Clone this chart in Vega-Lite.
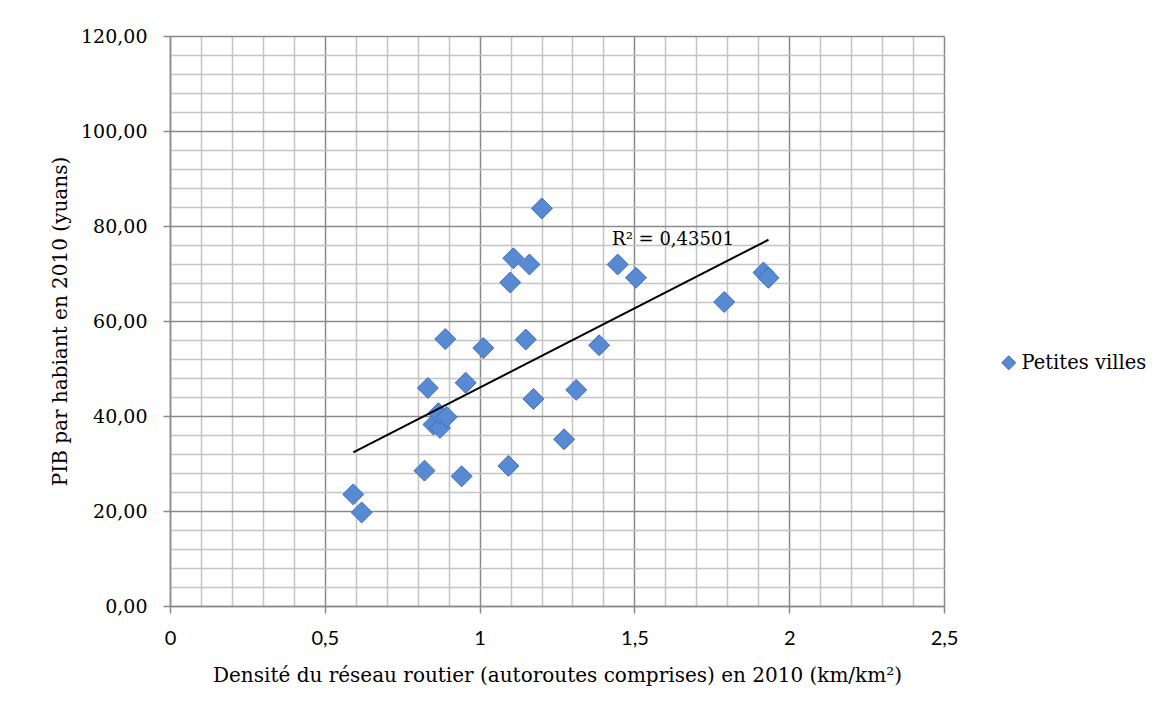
{
  "$schema": "https://vega.github.io/schema/vega-lite/v6.json",
  "description": "PIB par habitant vs densité du réseau routier, petites villes, 2010.",
  "width": 774,
  "height": 570,
  "autosize": "none",
  "padding": {"left": 170, "top": 36, "right": 231, "bottom": 109},
  "background": "white",
  "config": {
    "view": {"stroke": null},
    "axis": {
      "domainColor": "#8a8a8a",
      "domainWidth": 1.5,
      "tickColor": "#8a8a8a",
      "tickWidth": 1.5,
      "tickSize": 7,
      "labelColor": "#000",
      "titleColor": "#000",
      "titleFontWeight": "normal",
      "labelOverlap": false,
      "labelBound": false,
      "labelFlush": false
    }
  },
  "encoding": {
    "x": {
      "field": "densite",
      "type": "quantitative",
      "scale": {"domain": [0, 2.5], "nice": false},
      "axis": {
        "title": "Densité du réseau routier (autoroutes comprises) en 2010 (km/km²)",
        "titleFont": "DejaVu Serif",
        "titleFontSize": 20,
        "titlePadding": 17,
        "labelFont": "Lato",
        "labelFontSize": 20,
        "labelPadding": 15,
        "values": [0, 0.1, 0.2, 0.3, 0.4, 0.5, 0.6, 0.7, 0.8, 0.9, 1, 1.1, 1.2, 1.3, 1.4, 1.5, 1.6, 1.7, 1.8, 1.9, 2, 2.1, 2.2, 2.3, 2.4, 2.5],
        "labelExpr": "abs(datum.value*2 - round(datum.value*2)) < 0.001 ? replace(format(datum.value, '~g'), '.', ',') : ''",
        "grid": true,
        "gridWidth": 1.5,
        "gridColor": {"condition": {"test": "abs(datum.value*2 - round(datum.value*2)) < 0.001", "value": "#8a8a8a"}, "value": "#c4c4c4"},
        "tickOpacity": {"condition": {"test": "abs(datum.value*2 - round(datum.value*2)) < 0.001", "value": 1}, "value": 0}
      }
    },
    "y": {
      "field": "pib",
      "type": "quantitative",
      "scale": {"domain": [0, 120], "nice": false},
      "axis": {
        "title": "PIB par habiant en 2010 (yuans)",
        "titleFont": "DejaVu Serif",
        "titleFontSize": 20,
        "titlePadding": 10,
        "labelFont": "DejaVu Serif",
        "labelFontSize": 19,
        "labelPadding": 16,
        "values": [0, 4, 8, 12, 16, 20, 24, 28, 32, 36, 40, 44, 48, 52, 56, 60, 64, 68, 72, 76, 80, 84, 88, 92, 96, 100, 104, 108, 112, 116, 120],
        "labelExpr": "datum.value % 20 == 0 ? replace(format(datum.value, '.2f'), '.', ',') : ''",
        "grid": true,
        "gridWidth": 1.5,
        "gridColor": {"condition": {"test": "datum.value % 20 == 0", "value": "#8a8a8a"}, "value": "#c4c4c4"},
        "tickOpacity": {"condition": {"test": "datum.value % 20 == 0", "value": 1}, "value": 0}
      }
    }
  },
  "layer": [
    {
      "data": {
        "values": [
          {"densite": 0.592, "pib": 23.5, "serie": "Petites villes"},
          {"densite": 0.619, "pib": 19.7, "serie": "Petites villes"},
          {"densite": 0.822, "pib": 28.5, "serie": "Petites villes"},
          {"densite": 0.833, "pib": 45.9, "serie": "Petites villes"},
          {"densite": 0.851, "pib": 38.2, "serie": "Petites villes"},
          {"densite": 0.872, "pib": 37.5, "serie": "Petites villes"},
          {"densite": 0.867, "pib": 40.6, "serie": "Petites villes"},
          {"densite": 0.894, "pib": 39.8, "serie": "Petites villes"},
          {"densite": 0.889, "pib": 56.2, "serie": "Petites villes"},
          {"densite": 0.942, "pib": 27.3, "serie": "Petites villes"},
          {"densite": 0.955, "pib": 47.0, "serie": "Petites villes"},
          {"densite": 1.012, "pib": 54.3, "serie": "Petites villes"},
          {"densite": 1.093, "pib": 29.5, "serie": "Petites villes"},
          {"densite": 1.099, "pib": 68.1, "serie": "Petites villes"},
          {"densite": 1.109, "pib": 73.2, "serie": "Petites villes"},
          {"densite": 1.149, "pib": 56.1, "serie": "Petites villes"},
          {"densite": 1.161, "pib": 71.9, "serie": "Petites villes"},
          {"densite": 1.174, "pib": 43.6, "serie": "Petites villes"},
          {"densite": 1.201, "pib": 83.7, "serie": "Petites villes"},
          {"densite": 1.273, "pib": 35.1, "serie": "Petites villes"},
          {"densite": 1.312, "pib": 45.5, "serie": "Petites villes"},
          {"densite": 1.386, "pib": 54.9, "serie": "Petites villes"},
          {"densite": 1.446, "pib": 71.9, "serie": "Petites villes"},
          {"densite": 1.505, "pib": 69.1, "serie": "Petites villes"},
          {"densite": 1.790, "pib": 64.0, "serie": "Petites villes"},
          {"densite": 1.917, "pib": 70.2, "serie": "Petites villes"},
          {"densite": 1.933, "pib": 69.1, "serie": "Petites villes"}
        ]
      },
      "layer": [
        {
          "mark": {
            "type": "point",
            "filled": true,
            "opacity": 1,
            "size": 440,
            "stroke": "#3f6fb6",
            "strokeWidth": 1
          },
          "encoding": {
            "color": {
              "field": "serie",
              "type": "nominal",
              "scale": {"range": ["#5889d3"]},
              "legend": {
                "title": null,
                "orient": "none",
                "legendX": 829,
                "legendY": 317,
                "labelFont": "DejaVu Serif",
                "labelFontSize": 19.5,
                "labelColor": "#000",
                "symbolSize": 200,
                "symbolStrokeColor": "#3f6fb6",
                "symbolStrokeWidth": 1,
                "labelOffset": 3
              }
            },
            "shape": {
              "field": "serie",
              "type": "nominal",
              "scale": {"range": ["diamond"]}
            }
          }
        },
        {
          "transform": [{"regression": "pib", "on": "densite"}],
          "mark": {"type": "line", "color": "#000", "strokeWidth": 2}
        }
      ]
    },
    {
      "data": {"values": [{"densite": 1.428, "pib": 77, "label": "R² = 0,43501"}]},
      "mark": {"type": "text", "align": "left", "baseline": "middle", "font": "DejaVu Serif", "fontSize": 18, "color": "#000"},
      "encoding": {
        "text": {"field": "label"}
      }
    }
  ]
}
